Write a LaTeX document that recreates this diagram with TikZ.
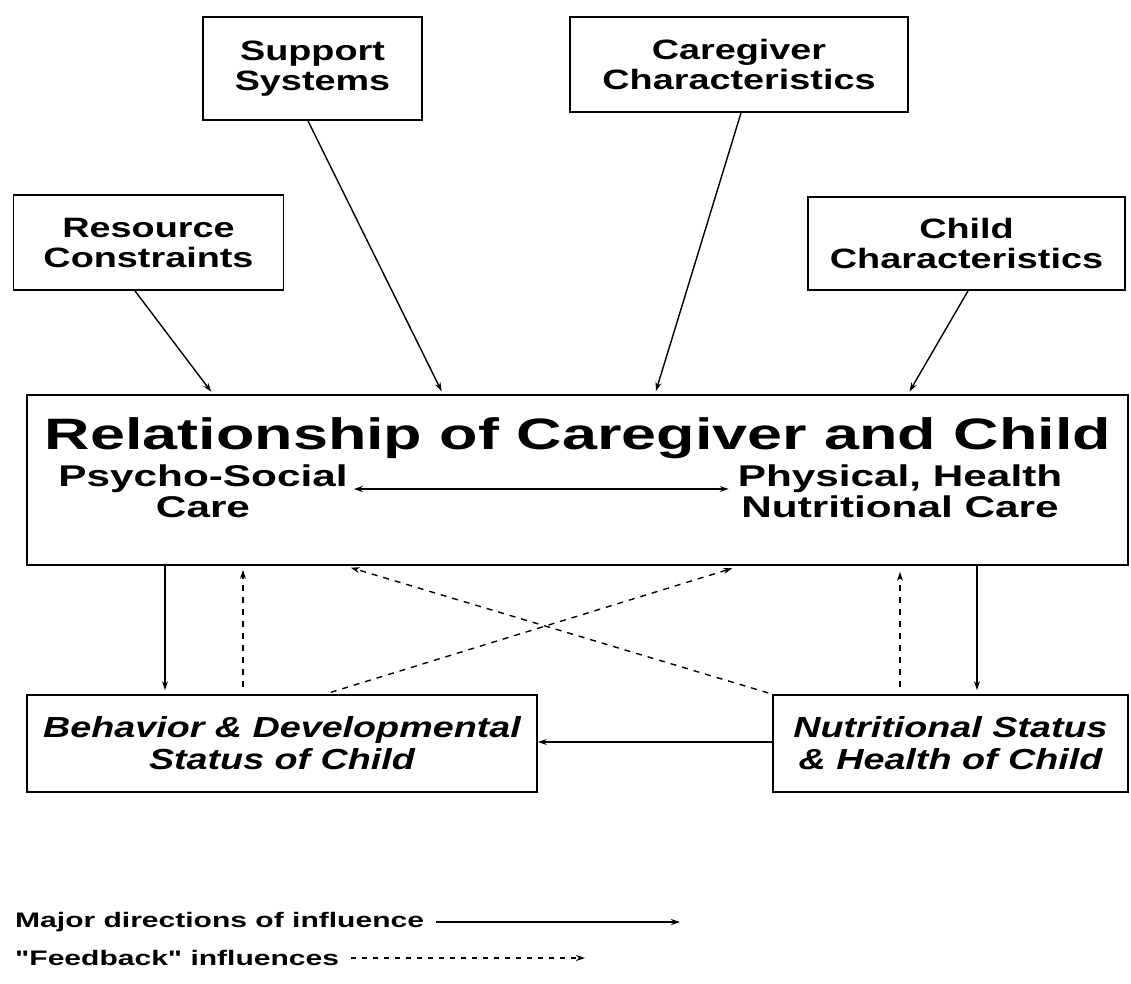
\documentclass[tikz,border=0pt]{standalone}
\usepackage{fontspec}
\setmainfont{Liberation Sans}
\newfontfamily\fTop[FakeStretch=1.35]{Liberation Sans}
\newfontfamily\fTitle[FakeStretch=1.43]{Liberation Sans}
\newfontfamily\fSub[FakeStretch=1.41]{Liberation Sans}
\newfontfamily\fBot[FakeStretch=1.3]{Liberation Sans}
\newfontfamily\fLeg[FakeStretch=1.43]{Liberation Sans}
\usetikzlibrary{arrows.meta,calc}
\begin{document}
\begin{tikzpicture}[x=1pt,y=-1pt,
  box/.style={draw,line width=1.8pt,rectangle,inner sep=0pt,align=center},
  major/.style={line width=1.4pt,-{Stealth[length=9pt,width=6pt]}},
  feed/.style={line width=1.4pt,dash pattern=on 6pt off 6pt,-{Stealth[length=9pt,width=6pt]}},
  topfont/.style={font=\fTop\bfseries\fontsize{28}{30}\selectfont},
  titlefont/.style={font=\fTitle\bfseries\fontsize{44}{48}\selectfont},
  subfont/.style={font=\fSub\bfseries\fontsize{30}{31}\selectfont},
  botfont/.style={font=\fBot\bfseries\itshape\fontsize{29}{32}\selectfont},
  legfont/.style={font=\fLeg\bfseries\fontsize{21}{24}\selectfont},
  txt/.style={inner sep=0pt,align=center}]
\useasboundingbox[fill=white] (0,0) rectangle (1131,983);

% top boxes
\node[box,topfont,minimum width=219pt,minimum height=103pt] (sup) at (312.5,68.5) {Support\\Systems};
\node[box,topfont,minimum width=338pt,minimum height=95pt] (care) at (739,64.5) {Caregiver\\Characteristics};
\node[box,topfont,minimum width=270pt,minimum height=95pt] (res) at (148.5,242.5) {Resource\\Constraints};
\node[box,topfont,minimum width=317pt,minimum height=93pt] (child) at (966.5,243.5) {Child\\Characteristics};

% main box
\node[box,minimum width=1101pt,minimum height=170pt] (main) at (577.5,480) {};
\node[txt,titlefont] (title) at (578,438) {Relationship of Caregiver and Child};
\node[txt,subfont] (psy) at (203,491) {Psycho-Social\\Care};
\node[txt,subfont] (phys) at (900,491) {Physical, Health\\Nutritional Care};

% bottom boxes
\node[box,botfont,minimum width=510pt,minimum height=97pt] (beh) at (282,743.5) {Behavior \& Developmental\\Status of Child};
\node[box,botfont,minimum width=355pt,minimum height=97pt] (nut) at (950.5,743.5) {Nutritional Status\\\& Health of Child};

% arrows from top
\draw[major,shorten >=3pt] ([xshift=-13.5pt]res.south) -- ([xshift=-364.5pt]main.north);
\draw[major,shorten >=3pt] ([xshift=-4.5pt]sup.south) -- ([xshift=-134.5pt]main.north);
\draw[major,shorten >=3pt] ([xshift=2pt]care.south) -- ([xshift=77.5pt]main.north);
\draw[major,shorten >=3pt] ([xshift=1.5pt]child.south) -- ([xshift=330.5pt]main.north);

% inner two-way arrow
\draw[line width=1.4pt,{Stealth[length=9pt,width=6pt]}-{Stealth[length=9pt,width=6pt]},shorten <=6pt,shorten >=9pt] ([yshift=2pt]psy.east) -- ([yshift=2pt]psy.east -| phys.west);

% vertical connectors
\coordinate (v1) at (165,0);
\coordinate (v2) at (243,0);
\coordinate (v3) at (900,0);
\coordinate (v4) at (977,0);
\coordinate (d1) at (325,0);
\coordinate (d2) at (740,0);
\coordinate (d3) at (345,0);
\draw[major,shorten >=4pt] (main.south -| v1) -- (beh.north -| v1);
\draw[major,shorten >=4pt] (main.south -| v4) -- (nut.north -| v4);
\draw[feed,shorten <=7pt,shorten >=4pt] (beh.north -| v2) -- (main.south -| v2);
\draw[feed,shorten <=7pt,shorten >=6pt] (nut.north -| v3) -- (main.south -| v3);
\draw[feed,shorten <=6pt,shorten >=8pt] (beh.north -| d1) -- (main.south -| d2);
\draw[feed,shorten <=4pt,shorten >=6pt] (nut.north west) -- (main.south -| d3);

% horizontal
\draw[major] ([yshift=1.5pt]nut.west) -- ([yshift=1.5pt]beh.east);

% legend
\node[txt,legfont,anchor=west] (lg1) at (15,922) {Major directions of influence};
\node[txt,legfont,anchor=west] (lg2) at (15,958) {"Feedback" influences};
\coordinate (lg1e) at (680,922);
\coordinate (lg2e) at (585,958);
\draw[major,line width=1.2pt] ([xshift=12pt]lg1.east |- lg1e) -- (lg1e);
\draw[feed,line width=1.2pt,dash pattern=on 5pt off 6pt] ([xshift=12pt]lg2.east |- lg2e) -- (lg2e);
\end{tikzpicture}
\end{document}
